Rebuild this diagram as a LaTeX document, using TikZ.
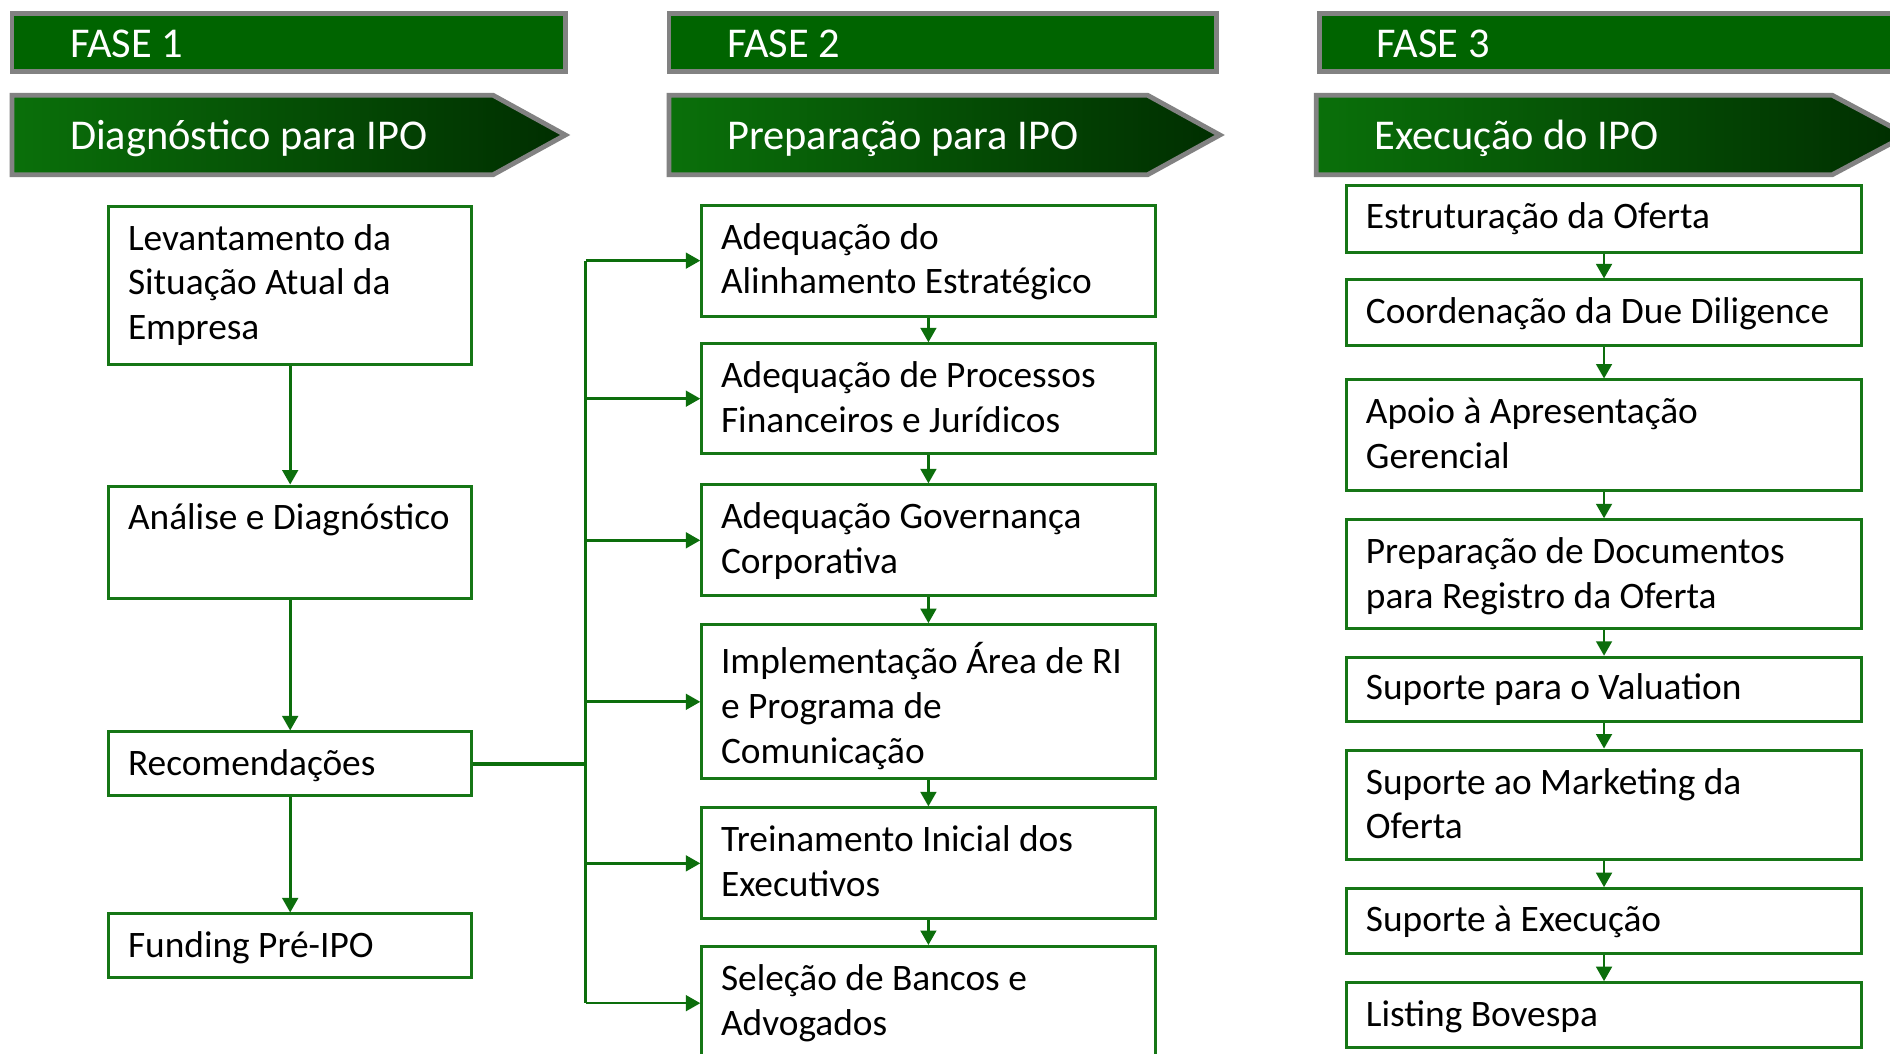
\documentclass[tikz,border=0pt]{standalone}
\usepackage{fontspec}
\setmainfont{Carlito}
\usetikzlibrary{arrows.meta}
\definecolor{boxgreen}{RGB}{22,118,22}
\definecolor{linegreen}{RGB}{12,110,12}
\definecolor{fasegreen}{RGB}{0,100,0}
\definecolor{chevl}{RGB}{10,112,10}
\definecolor{chevr}{RGB}{0,46,0}
\definecolor{edgegray}{RGB}{130,130,130}
\begin{document}
\begin{tikzpicture}[x=1pt,y=-1pt,
  box/.style={draw=boxgreen, line width=2.5pt, fill=white, anchor=north west, inner sep=0pt},
  colA/.style={box, minimum width=301pt},
  colB/.style={box, minimum width=376pt},
  colC/.style={box, minimum width=427pt},
  txt/.style={anchor=north west, inner sep=0pt, align=left, text=black, font=\fontsize{31}{37}\selectfont, execute at begin node={\rule{0pt}{28pt}}},
  head/.style={anchor=base west, inner sep=0pt, text=white, font=\fontsize{35.2}{40}\selectfont},
  fasebar/.style={draw=edgegray, line width=4pt, fill=fasegreen},
  chev/.style={left color=chevl, right color=chevr, draw=edgegray, line width=4pt},
  conn/.style={draw=linegreen, line width=2.2pt},
  arr/.style={conn, -{Triangle[width=13pt,length=12pt]}},
]
\useasboundingbox (0,0) rectangle (1568,874);
\clip (0,0) rectangle (1568,874);
\fill[white] (0,0) rectangle (1568,874);

% phase bars
\path[fasebar] (10,11) rectangle (469,59);
\path[fasebar] (555,11) rectangle (1009,59);
\path[fasebar] (1095,11) rectangle (1600,59);
\node[head] (f1) at (58,48) {FASE 1};
\node[head] (f2) at (603,48) {FASE 2};
\node[head] (f3) at (1142,48) {FASE 3};

% chevrons
\path[chev] (10,79) -- (409,79) -- (469,112) -- (409,145) -- (10,145) -- cycle;
\path[chev] (555,79) -- (952,79) -- (1012,112) -- (952,145) -- (555,145) -- cycle;
\path[chev] (1092,79) -- (1520,79) -- (1582,112) -- (1520,145) -- (1092,145) -- cycle;
\node[head] (h1) at (58,124) {Diagnóstico para IPO};
\node[head] (h2) at (603,124) {Preparação para IPO};
\node[head] (h3) at (1140,124) {Execução do IPO};

% column 1
\node[colA, minimum height=131pt] (A) at (89,170) {};
\node[colA, minimum height=93pt] (B) at (89,402) {};
\node[colA, minimum height=53pt] (C) at (89,606) {};
\node[colA, minimum height=53pt] (D) at (89,757) {};
\node[txt] (tA) at ([shift={(17,16)}]A.north west) {Levantamento da\\Situação Atual da\\Empresa};
\node[txt] (tB) at ([shift={(17,9)}]B.north west) {Análise e Diagnóstico};
\node[txt] (tC) at ([shift={(17,9)}]C.north west) {Recomendações};
\node[txt] (tD) at ([shift={(17,9)}]D.north west) {Funding Pré-IPO};

% column 2
\node[colB, minimum height=92pt] (E) at (581,169) {};
\node[colB, minimum height=91pt] (F) at (581,284) {};
\node[colB, minimum height=92pt] (G) at (581,401) {};
\node[colB, minimum height=128pt] (H) at (581,517) {};
\node[colB, minimum height=92pt] (I) at (581,669) {};
\node[colB, minimum height=94pt] (J) at (581,784) {};
\node[txt] (tE) at ([shift={(17,16)}]E.north west) {Adequação do\\Alinhamento Estratégico};
\node[txt] (tF) at ([shift={(17,16)}]F.north west) {Adequação de Processos\\Financeiros e Jurídicos};
\node[txt] (tG) at ([shift={(17,16)}]G.north west) {Adequação Governança\\Corporativa};
\node[txt] (tH) at ([shift={(17,16)}]H.north west) {Implementação Área de RI\\e Programa de\\Comunicação};
\node[txt] (tI) at ([shift={(17,16)}]I.north west) {Treinamento Inicial dos\\Executivos};
\node[txt] (tJ) at ([shift={(17,16)}]J.north west) {Seleção de Bancos e\\Advogados};

% column 3
\node[colC, minimum height=55pt] (K) at (1116,153) {};
\node[colC, minimum height=54pt] (L) at (1116,231) {};
\node[colC, minimum height=92pt] (M) at (1116,314) {};
\node[colC, minimum height=90pt] (N) at (1116,430) {};
\node[colC, minimum height=53pt] (O) at (1116,544) {};
\node[colC, minimum height=91pt] (P) at (1116,621) {};
\node[colC, minimum height=54pt] (Q) at (1116,736) {};
\node[colC, minimum height=54pt] (R) at (1116,814) {};
\node[txt] (tK) at ([shift={(17,8)}]K.north west) {Estruturação da Oferta};
\node[txt] (tL) at ([shift={(17,9)}]L.north west) {Coordenação da Due Diligence};
\node[txt] (tM) at ([shift={(17,16)}]M.north west) {Apoio à Apresentação\\Gerencial};
\node[txt] (tN) at ([shift={(17,16)}]N.north west) {Preparação de Documentos\\para Registro da Oferta};
\node[txt] (tO) at ([shift={(17,8)}]O.north west) {Suporte para o Valuation};
\node[txt] (tP) at ([shift={(17,16)}]P.north west) {Suporte ao Marketing da\\Oferta};
\node[txt] (tQ) at ([shift={(17,9)}]Q.north west) {Suporte à Execução};
\node[txt] (tR) at ([shift={(17,9)}]R.north west) {Listing Bovespa};

% connectors column 1
\draw[arr] (A.south) -- (B.north);
\draw[arr] (B.south) -- (C.north);
\draw[arr] (C.south) -- (D.north);

% trunk
\coordinate (trunk) at (486,0);
\draw[conn, line width=3pt] (C.east) -- (C.east -| trunk);
\draw[conn] (E.west -| trunk) -- (J.west -| trunk);
\foreach \b in {E,F,G,H,I,J} \draw[arr] (\b.west -| trunk) -- (\b.west);

% column 2 chain
\foreach \u/\v in {E/F,F/G,G/H,H/I,I/J} \draw[arr] (\u.south) -- (\v.north);
% column 3 chain
\foreach \u/\v in {K/L,L/M,M/N,N/O,O/P,P/Q,Q/R} \draw[arr] (\u.south) -- (\v.north);
\end{tikzpicture}
\end{document}
